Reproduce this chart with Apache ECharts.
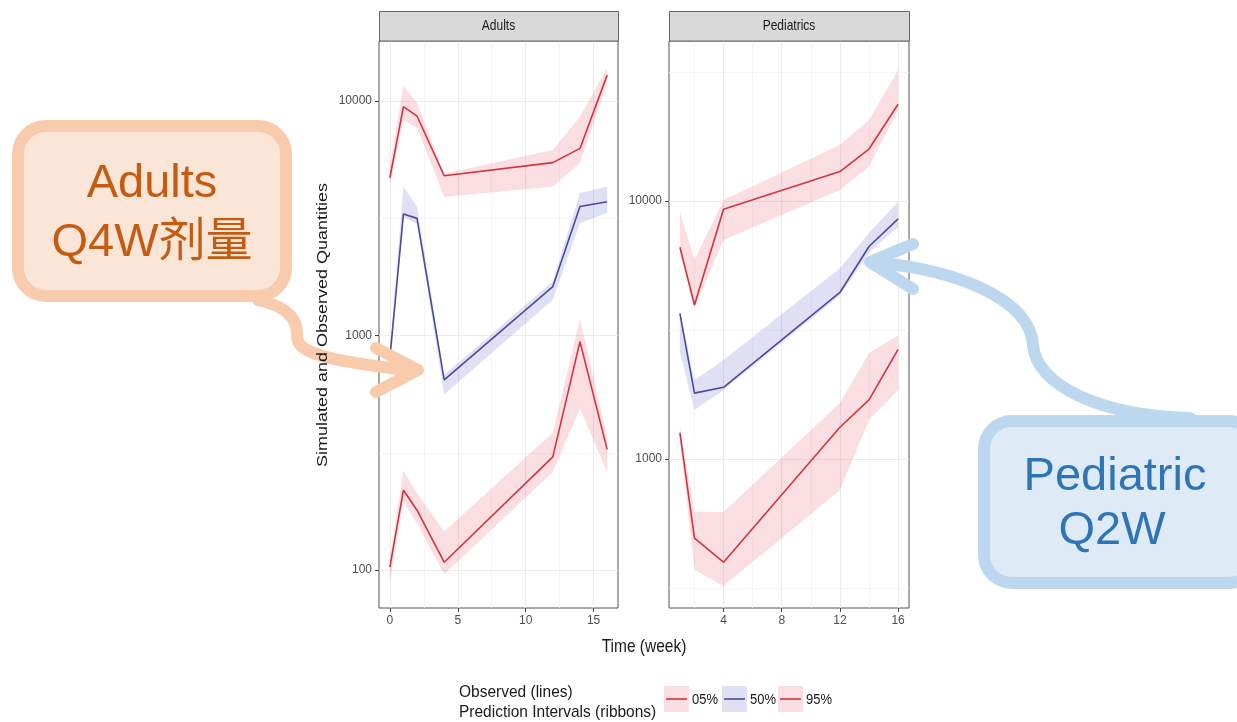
<!DOCTYPE html>
<html><head><meta charset="utf-8">
<script src="https://cdn.jsdelivr.net/npm/echarts@6/dist/echarts.min.js"></script>
<style>html,body{margin:0;padding:0;background:#fff}#c{width:1237px;height:722px}</style>
</head><body><div id="c"></div>
<script>
// ---------- data ----------
const panelNames = ['Adults', 'Pediatrics'];
const quantileNames = ['05%', '50%', '95%'];

const adultsWeeks = [0, 1, 2, 4, 12, 14, 16];
const adultsP05   = [103, 219, 180, 108, 304, 942, 327];
const adultsP05Lo = [90, 195, 158, 96, 262, 490, 262];
const adultsP05Hi = [112, 265, 213, 146, 385, 1180, 372];
const adultsP50   = [800, 3300, 3160, 647, 1618, 3550, 3720];
const adultsP50Lo = [760, 3200, 3000, 560, 1420, 3020, 3330];
const adultsP50Hi = [880, 4310, 3550, 680, 1700, 4050, 4310];
const adultsP95   = [4700, 9460, 8630, 4800, 5460, 6280, 12900];
const adultsP95Lo = [4350, 8300, 7700, 3900, 4320, 5440, 11900];
const adultsP95Hi = [5300, 11600, 9800, 4900, 6180, 8570, 13830];

const pedsWeeks = [1, 2, 4, 12, 14, 16];
const pedsP05   = [1264, 493, 398, 1327, 1694, 2660];
const pedsP05Lo = [1180, 372, 322, 758, 1416, 1850];
const pedsP05Hi = [1340, 625, 623, 1650, 2570, 3020];
const pedsP50   = [3670, 1800, 1896, 4420, 6660, 8520];
const pedsP50Lo = [2600, 1550, 1850, 4300, 6280, 7940];
const pedsP50Hi = [3750, 2020, 2420, 5490, 7520, 9940];
const pedsP95   = [6620, 3950, 9290, 13000, 15900, 23700];
const pedsP95Lo = [6400, 3850, 7060, 11030, 13590, 22500];
const pedsP95Hi = [9090, 5900, 10090, 16500, 20600, 32200];

const adultsXTicks = [0, 5, 10, 15];
const adultsXMinor = [2.5, 7.5, 12.5];
const adultsYTicks = [100, 1000, 10000];
const adultsYMinor = [316.2, 3162.3];
const pedsXTicks = [4, 8, 12, 16];
const pedsXMinor = [2, 6, 10, 14];
const pedsYTicks = [1000, 10000];
const pedsYMinor = [316.2, 3162.3, 31622.8];

// ---------- styles ----------
const RED = '#d0343e', BLUE = '#4b4b9e';
const RED_FILL = 'rgba(236,92,104,0.20)', BLUE_FILL = 'rgba(100,100,205,0.20)';
const FONT = '"Liberation Sans", Arial, sans-serif';

const panels = [
  {left: 379, width: 239, xmin: -0.8, xmax: 16.8, ymin: 68.9, ymax: 18030,
   weeks: adultsWeeks, xt: adultsXTicks, xm: adultsXMinor, yt: adultsYTicks, ym: adultsYMinor,
   q: [[adultsP05, adultsP05Lo, adultsP05Hi], [adultsP50, adultsP50Lo, adultsP50Hi], [adultsP95, adultsP95Lo, adultsP95Hi]]},
  {left: 669, width: 240, xmin: 0.25, xmax: 16.75, ymin: 264.5, ymax: 41700,
   weeks: pedsWeeks, xt: pedsXTicks, xm: pedsXMinor, yt: pedsYTicks, ym: pedsYMinor,
   q: [[pedsP05, pedsP05Lo, pedsP05Hi], [pedsP50, pedsP50Lo, pedsP50Hi], [pedsP95, pedsP95Lo, pedsP95Hi]]}
];

const grid = [], xAxis = [], yAxis = [], series = [];
panels.forEach((p, k) => {
  grid.push({left: p.left, top: 41, width: p.width, height: 567, show: true,
    borderColor: '#555', borderWidth: 1, backgroundColor: 'transparent'});
  xAxis.push({type: 'value', gridIndex: k, min: p.xmin, max: p.xmax,
    axisLine: {show: false, onZero: false}, splitLine: {show: false},
    axisTick: {show: true, length: 4, customValues: p.xt, lineStyle: {color: '#444'}},
    axisLabel: {customValues: p.xt, color: '#4d4d4d', fontSize: 12, fontFamily: FONT, margin: 7}});
  yAxis.push({type: 'log', logBase: 10, gridIndex: k, min: p.ymin, max: p.ymax,
    axisLine: {show: false, onZero: false}, splitLine: {show: false},
    axisTick: {show: true, length: 4, customValues: p.yt, lineStyle: {color: '#444'}},
    axisLabel: {customValues: p.yt, color: '#4d4d4d', fontSize: 12, fontFamily: FONT, margin: 7,
      formatter: v => String(Math.round(v))}});
  // gridlines, placed through the axes' scales
  const gridSeries = (name, items, color, width) => ({
    type: 'line', name, xAxisIndex: k, yAxisIndex: k, silent: true, z: 1, animation: false,
    data: p.weeks.map((w, i) => [w, p.q[1][0][i]]), showSymbol: false, lineStyle: {opacity: 0},
    markLine: {silent: true, symbol: ['none', 'none'], label: {show: false}, animation: false, z: 1,
      lineStyle: {type: 'solid', color, width, opacity: 1}, emphasis: {disabled: true}, data: items}});
  series.push(gridSeries('minor' + k,
    p.ym.map(v => ({yAxis: v})).concat(p.xm.map(v => ({xAxis: v}))), '#f3f3f3', 0.8));
  series.push(gridSeries('major' + k,
    p.yt.map(v => ({yAxis: v})).concat(p.xt.map(v => ({xAxis: v}))), '#ebebeb', 1.1));
  // ribbons
  p.q.forEach((qq, j) => {
    const lo = qq[1], hi = qq[2], weeks = p.weeks;
    series.push({type: 'custom', name: quantileNames[j] + ' PI', xAxisIndex: k, yAxisIndex: k,
      silent: true, z: 2, animation: false,
      data: weeks.map((w, i) => [w, lo[i], hi[i]]), encode: {x: 0, y: [1, 2]},
      renderItem: (params, api) => {
        if (params.dataIndex !== 0) return null;
        const pts = [];
        for (let i = 0; i < weeks.length; i++) pts.push(api.coord([weeks[i], hi[i]]));
        for (let i = weeks.length - 1; i >= 0; i--) pts.push(api.coord([weeks[i], lo[i]]));
        return {type: 'polygon', shape: {points: pts}, style: {fill: j === 1 ? BLUE_FILL : RED_FILL}};
      }});
  });
  // observed lines
  p.q.forEach((qq, j) => {
    series.push({type: 'line', name: quantileNames[j], xAxisIndex: k, yAxisIndex: k,
      data: p.weeks.map((w, i) => [w, qq[0][i]]), showSymbol: false, z: 3, animation: false,
      lineStyle: {color: j === 1 ? BLUE : RED, width: 1.6}});
  });
});

// ---------- decorations ----------
const g = [];
const txt = (x, y, text, font, fill, align, extra) => Object.assign({type: 'text', x, y, z: 21,
  style: {text, font, fill, align, verticalAlign: 'middle', textAlign: align, textVerticalAlign: 'middle'}}, extra || {});
panels.forEach((p, k) => {
  g.push({type: 'rect', shape: {x: p.left + 0.5, y: 11.5, width: p.width, height: 29.5},
    style: {fill: '#d9d9d9', stroke: '#666', lineWidth: 1}, z: 10});
  g.push(txt(p.left + p.width / 2, 26, panelNames[k], '12px ' + FONT, '#1a1a1a', 'center', {scaleY: 1.18}));
});
g.push(txt(323, 325, 'Simulated and Observed Quantities', '15px ' + FONT, '#1a1a1a', 'center', {rotation: Math.PI / 2, scaleX: 1.2}));
g.push(txt(644, 647, 'Time (week)', '15.5px ' + FONT, '#1a1a1a', 'center', {scaleY: 1.15}));
// legend
g.push(txt(459, 692, 'Observed (lines)', '15.5px ' + FONT, '#1a1a1a', 'left', {scaleY: 1.08}));
g.push(txt(459, 712, 'Prediction Intervals (ribbons)', '15.5px ' + FONT, '#1a1a1a', 'left', {scaleY: 1.08}));
const keyX = [664, 722, 778];
quantileNames.forEach((nm, j) => {
  const x0 = keyX[j];
  g.push({type: 'rect', shape: {x: x0, y: 686, width: 25, height: 26}, style: {fill: j === 1 ? BLUE_FILL : RED_FILL}, z: 11});
  g.push({type: 'line', shape: {x1: x0 + 2, y1: 699, x2: x0 + 23, y2: 699}, style: {stroke: j === 1 ? BLUE : RED, lineWidth: 1.6}, z: 12});
  g.push(txt(x0 + 28, 700, nm, '13px ' + FONT, '#1a1a1a', 'left', {scaleY: 1.12}));
});
const strokeStyle = c => ({fill: 'none', stroke: c, lineWidth: 12, lineCap: 'round', lineJoin: 'round'});
// callout: Adults
g.push({type: 'rect', shape: {x: 18, y: 126, width: 268, height: 170, r: 28},
  style: {fill: '#fbe5d6', stroke: '#f8cbad', lineWidth: 12}, z: 20});
g.push({type: 'bezierCurve', shape: {x1: 258, y1: 300, cpx1: 285, cpy1: 306, cpx2: 298, cpy2: 318, x2: 297, y2: 335},
  style: strokeStyle('#f8cbad'), z: 20});
g.push({type: 'bezierCurve', shape: {x1: 297, y1: 335, cpx1: 296, cpy1: 352, cpx2: 320, cpy2: 360, x2: 414, y2: 371},
  style: strokeStyle('#f8cbad'), z: 20});
g.push({type: 'polyline', shape: {points: [[376, 348], [418, 370], [376, 392]]}, style: strokeStyle('#f8cbad'), z: 20});
g.push(txt(152, 184, 'Adults', '47px "Liberation Sans", "Noto Sans CJK SC", sans-serif', '#c55a11', 'center'));
g.push(txt(152, 243, 'Q4W剂量', '47px "Liberation Sans", "Noto Sans CJK SC", sans-serif', '#c55a11', 'center'));
// callout: Pediatric
g.push({type: 'rect', shape: {x: 984, y: 421, width: 272, height: 162, r: 28},
  style: {fill: '#deebf7', stroke: '#bdd7ee', lineWidth: 12}, z: 20});
g.push({type: 'bezierCurve', shape: {x1: 872, y1: 262, cpx1: 960, cpy1: 270, cpx2: 1030, cpy2: 300, x2: 1033, y2: 345},
  style: strokeStyle('#bdd7ee'), z: 19});
g.push({type: 'bezierCurve', shape: {x1: 1033, y1: 345, cpx1: 1036, cpy1: 385, cpx2: 1100, cpy2: 416, x2: 1190, y2: 418},
  style: strokeStyle('#bdd7ee'), z: 19});
g.push({type: 'polyline', shape: {points: [[913, 244], [870, 262], [913, 289]]}, style: strokeStyle('#bdd7ee'), z: 20});
g.push(txt(1115, 477, 'Pediatric', '47px "Liberation Sans", sans-serif', '#2e75b6', 'center'));
g.push(txt(1112, 531, 'Q2W', '47px "Liberation Sans", sans-serif', '#2e75b6', 'center'));

const chart = echarts.init(document.getElementById('c'));
chart.setOption({animation: false, backgroundColor: '#fff', grid, xAxis, yAxis, series, graphic: {elements: g}});
</script></body></html>
